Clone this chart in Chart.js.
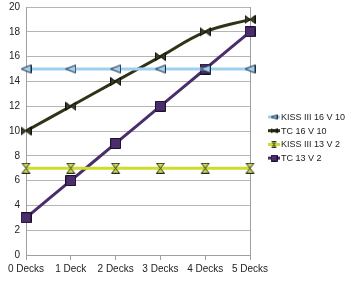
<!DOCTYPE html>
<html>
<head>
<meta charset="utf-8">
<script src="https://cdn.jsdelivr.net/npm/chart.js@4"></script>
<style>
  html, body { margin: 0; padding: 0; background: #fff; }
  #wrap { width: 364px; height: 297px; }
</style>
</head>
<body>
<div id="wrap"><canvas id="chart" width="364" height="297"></canvas></div>
<script>
// data
var categories = ['0 Decks', '1 Deck', '2 Decks', '3 Decks', '4 Decks', '5 Decks'];
var seriesNames = ['KISS III 16 V 10', 'TC 16 V 10', 'KISS III 13 V 2', 'TC 13 V 2'];
var kiss16 = [15, 15, 15, 15, 15, 15];
var tc16 = [10, 12, 14, 16, 18, 19];
var kiss13 = [7, 7, 7, 7, 7, 7];
var tc13 = [3, 6, 9, 12, 15, 18];
var yTicks = [0, 2, 4, 6, 8, 10, 12, 14, 16, 18, 20];

var FONT = '"Liberation Sans", Arial, sans-serif';

// marker drawing helpers
function makeMarker(kind, size, fill, stroke) {
    var c = document.createElement('canvas');
    c.width = size; c.height = size;
    var g = c.getContext('2d');
    var a = 0.5, b = size - 0.5, m = size / 2;
    g.fillStyle = fill;
    g.strokeStyle = stroke;
    g.lineWidth = 1;
    g.beginPath();
    if (kind === 'triLeft') {
        g.moveTo(a, m); g.lineTo(b, a + 1); g.lineTo(b, b - 1); g.closePath();
    } else if (kind === 'bowtie') {
        g.moveTo(a, a + 1); g.lineTo(m, m); g.lineTo(a, b - 1); g.closePath();
        g.moveTo(b, a + 1); g.lineTo(m, m); g.lineTo(b, b - 1); g.closePath();
    } else if (kind === 'hourglass') {
        g.moveTo(a + 1, a); g.lineTo(b - 1, a); g.lineTo(m, m); g.closePath();
        g.moveTo(a + 1, b); g.lineTo(b - 1, b); g.lineTo(m, m); g.closePath();
    } else {
        g.rect(a, a, size - 1, size - 1);
    }
    g.fill();
    g.stroke();
    return c;
}

var styles = [
    { line: '#9fd0ef', kind: 'triLeft', fill: '#9fd0ef', stroke: '#1d2a3a' },
    { line: '#2f3416', kind: 'bowtie', fill: '#3a3f1c', stroke: '#111' },
    { line: '#ccdd2a', kind: 'hourglass', fill: '#c8d85a', stroke: '#2a2a10' },
    { line: '#4b2d6e', kind: 'square', fill: '#4b2d6e', stroke: '#1a1028' }
];
var values = [kiss16, tc16, kiss13, tc13];

var datasets = values.map(function(v, i) {
    var s = styles[i];
    return {
        label: seriesNames[i],
        data: v,
        borderColor: s.line,
        borderWidth: 3,
        tension: 0.4,
        pointStyle: makeMarker(s.kind, 11, s.fill, s.stroke),
        legendMarker: makeMarker(s.kind, 7, s.fill, s.stroke)
    };
});

// legend drawn by hand to match the spreadsheet look
var sideLegend = {
    id: 'sideLegend',
    afterDraw: function(chart) {
        var ctx = chart.ctx;
        ctx.save();
        chart.data.datasets.forEach(function(ds, i) {
            var y = 117 + i * 13.7;
            ctx.strokeStyle = ds.borderColor;
            ctx.lineWidth = 3;
            ctx.beginPath();
            ctx.moveTo(268, y);
            ctx.lineTo(280, y);
            ctx.stroke();
            ctx.drawImage(ds.legendMarker, 270.5, y - 3.5);
            ctx.fillStyle = '#222';
            ctx.font = '9px ' + FONT;
            ctx.textBaseline = 'middle';
            ctx.fillText(ds.label, 281, y + 0.5);
        });
        ctx.restore();
    }
};

var ctx = document.getElementById('chart').getContext('2d');
var chart = new Chart(ctx, {
    type: 'line',
    data: { labels: categories, datasets: datasets },
    plugins: [sideLegend],
    options: {
        responsive: false,
        animation: false,
        layout: { padding: { left: 0, right: 114, top: 6, bottom: 0 } },
        plugins: {
            legend: { display: false },
            tooltip: { enabled: false }
        },
        scales: {
            x: {
                offset: false,
                afterFit: function(s) { s.height = 42; },
                grid: {
                    color: function(c) { return c.index === categories.length - 1 ? '#a0a0a0' : 'rgba(0,0,0,0)'; },
                    tickColor: '#a0a0a0',
                    tickLength: 5
                },
                border: { color: '#a0a0a0' },
                ticks: {
                    color: '#222',
                    font: { family: FONT, size: 10 },
                    padding: 3,
                    maxRotation: 0,
                    autoSkip: false
                }
            },
            y: {
                min: 0,
                max: 20,
                afterFit: function(s) { s.width = 26; s.paddingTop = 0; s.paddingBottom = 0; },
                afterBuildTicks: function(s) { s.ticks = yTicks.map(function(v) { return { value: v }; }); },
                grid: { color: '#b4b4b4', drawTicks: false },
                border: { color: '#a0a0a0' },
                ticks: {
                    color: '#222',
                    font: { family: FONT, size: 10 },
                    padding: 6
                }
            }
        }
    }
});
</script>
</body>
</html>
